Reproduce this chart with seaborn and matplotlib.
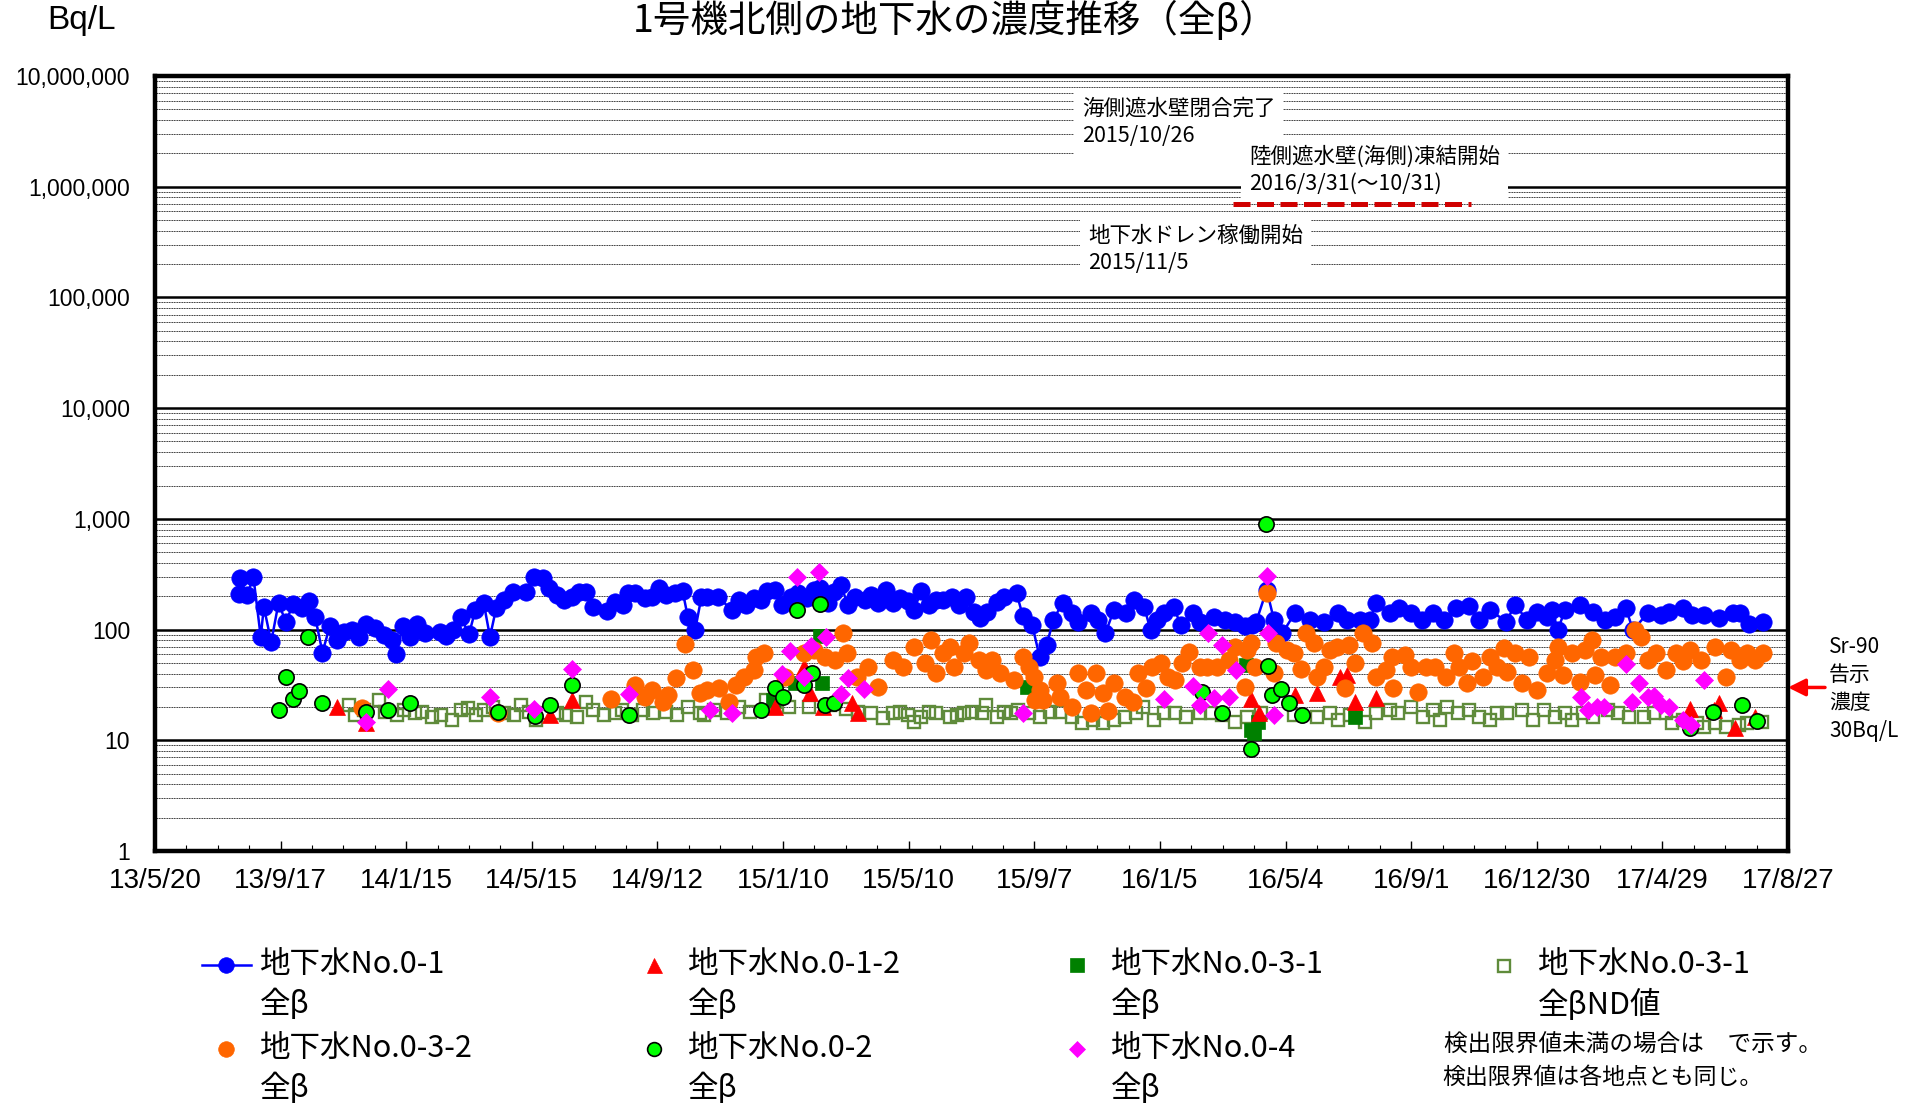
import numpy as np
import pandas as pd
import matplotlib
matplotlib.use('Agg')
import matplotlib.pyplot as plt
import matplotlib.dates as mdates
import matplotlib.ticker as mticker
import matplotlib.transforms as mtransforms
from matplotlib.lines import Line2D
from matplotlib.legend_handler import HandlerLine2D
from matplotlib import font_manager
import seaborn as sns

# ---------------- data ----------------
title = '1号機北側の地下水の濃度推移（全β）'
x_tick_labels = ['13/5/20', '13/9/17', '14/1/15', '14/5/15', '14/9/12', '15/1/10', '15/5/10',
                 '15/9/7', '16/1/5', '16/5/4', '16/9/1', '16/12/30', '17/4/29', '17/8/27']
x_start, x_end = '2013-05-20', '2017-08-27'

no01 = [  # 地下水No.0-1 全β
    ('2013-08-08', 210), ('2013-08-09', 292), ('2013-08-16', 205), ('2013-08-22', 299), ('2013-08-29', 86),
    ('2013-09-01', 160), ('2013-09-08', 77), ('2013-09-15', 174), ('2013-09-22', 117), ('2013-09-29', 170),
    ('2013-10-07', 157), ('2013-10-14', 181), ('2013-10-20', 130), ('2013-10-27', 62), ('2013-11-03', 108),
    ('2013-11-10', 81), ('2013-11-17', 95), ('2013-11-24', 99), ('2013-12-01', 86), ('2013-12-08', 112),
    ('2013-12-16', 103), ('2013-12-25', 89), ('2014-01-01', 81), ('2014-01-05', 60), ('2014-01-12', 108),
    ('2014-01-19', 86), ('2014-01-25', 112), ('2014-02-02', 93), ('2014-02-16', 95), ('2014-02-22', 87),
    ('2014-03-01', 99), ('2014-03-08', 130), ('2014-03-16', 91), ('2014-03-22', 150), ('2014-03-30', 174),
    ('2014-04-05', 86), ('2014-04-11', 157), ('2014-04-18', 185), ('2014-04-27', 219), ('2014-05-09', 219),
    ('2014-05-17', 299), ('2014-05-26', 292), ('2014-05-31', 238), ('2014-06-08', 205), ('2014-06-15', 185),
    ('2014-06-22', 197), ('2014-06-29', 219), ('2014-07-06', 219), ('2014-07-12', 160), ('2014-07-26', 147),
    ('2014-08-02', 178), ('2014-08-10', 167), ('2014-08-15', 214), ('2014-08-22', 214), ('2014-08-31', 193),
    ('2014-09-07', 197), ('2014-09-13', 238), ('2014-09-20', 205), ('2014-09-29', 214), ('2014-10-06', 223),
    ('2014-10-11', 130), ('2014-10-18', 99), ('2014-10-24', 197), ('2014-10-29', 197), ('2014-11-09', 197),
    ('2014-11-22', 150), ('2014-11-29', 185), ('2014-12-06', 167), ('2014-12-13', 193), ('2014-12-20', 185),
    ('2014-12-26', 223), ('2015-01-02', 228), ('2015-01-09', 167), ('2015-01-18', 197), ('2015-01-24', 214),
    ('2015-02-02', 193), ('2015-02-09', 228), ('2015-02-14', 238), ('2015-02-22', 174), ('2015-02-28', 219),
    ('2015-03-06', 253), ('2015-03-13', 167), ('2015-03-20', 197), ('2015-03-29', 185), ('2015-04-04', 205),
    ('2015-04-11', 174), ('2015-04-18', 228), ('2015-04-25', 174), ('2015-05-02', 193), ('2015-05-09', 180),
    ('2015-05-15', 150), ('2015-05-22', 223), ('2015-05-29', 167), ('2015-06-05', 185), ('2015-06-12', 185),
    ('2015-06-20', 197), ('2015-06-27', 167), ('2015-07-04', 197), ('2015-07-11', 144), ('2015-07-17', 127),
    ('2015-07-24', 144), ('2015-08-02', 178), ('2015-08-09', 197), ('2015-08-21', 214), ('2015-08-27', 133),
    ('2015-09-05', 110), ('2015-09-12', 57), ('2015-09-19', 73), ('2015-09-25', 122), ('2015-10-04', 174),
    ('2015-10-13', 141), ('2015-10-19', 117), ('2015-10-31', 141), ('2015-11-07', 122), ('2015-11-14', 93),
    ('2015-11-22', 150), ('2015-12-04', 141), ('2015-12-11', 185), ('2015-12-21', 160), ('2015-12-27', 99),
    ('2016-01-02', 122), ('2016-01-09', 141), ('2016-01-18', 160), ('2016-01-25', 110), ('2016-02-06', 141),
    ('2016-02-12', 117), ('2016-02-26', 130), ('2016-03-07', 122), ('2016-03-17', 117), ('2016-03-26', 108),
    ('2016-04-02', 110), ('2016-04-06', 118), ('2016-04-16', 228), ('2016-04-23', 122), ('2016-05-01', 93),
    ('2016-05-13', 141), ('2016-05-27', 122), ('2016-06-10', 118), ('2016-06-23', 141), ('2016-07-02', 122),
    ('2016-07-14', 122), ('2016-07-24', 122), ('2016-07-29', 174), ('2016-08-12', 141), ('2016-08-20', 156),
    ('2016-09-01', 141), ('2016-09-11', 122), ('2016-09-22', 141), ('2016-10-02', 122), ('2016-10-14', 156),
    ('2016-10-26', 162), ('2016-11-05', 122), ('2016-11-15', 150), ('2016-12-01', 118), ('2016-12-09', 167),
    ('2016-12-21', 122), ('2016-12-30', 144), ('2017-01-09', 130), ('2017-01-14', 150), ('2017-01-19', 99),
    ('2017-01-26', 150), ('2017-02-09', 167), ('2017-02-22', 144), ('2017-03-05', 122), ('2017-03-15', 130),
    ('2017-03-25', 156), ('2017-04-01', 99), ('2017-04-15', 141), ('2017-04-28', 136), ('2017-05-05', 144),
    ('2017-05-19', 156), ('2017-05-27', 136), ('2017-06-08', 136), ('2017-06-22', 127), ('2017-07-05', 141),
    ('2017-07-12', 141), ('2017-07-21', 113), ('2017-08-03', 118),
]

no032 = [  # 地下水No.0-3-2 全β
    ('2013-12-04', 19.6), ('2014-04-13', 17.6), ('2014-07-30', 23.6), ('2014-08-22', 31.6), ('2014-08-31', 24.6),
    ('2014-09-07', 28.5), ('2014-09-17', 22.2), ('2014-09-22', 25.7), ('2014-09-30', 36.3), ('2014-10-08', 73.5),
    ('2014-10-16', 43), ('2014-10-23', 26.5), ('2014-10-29', 28.5), ('2014-11-10', 29.4), ('2014-11-19', 22.4),
    ('2014-11-26', 31.6), ('2014-12-04', 37.6), ('2014-12-13', 43), ('2014-12-15', 57), ('2014-12-23', 61),
    ('2015-01-12', 37.6), ('2015-01-30', 61), ('2015-02-09', 65.5), ('2015-02-19', 57), ('2015-03-01', 53),
    ('2015-03-08', 92.5), ('2015-03-12', 61), ('2015-03-22', 37.6), ('2015-04-01', 46), ('2015-04-11', 30.5),
    ('2015-04-25', 53), ('2015-05-05', 46), ('2015-05-15', 70), ('2015-05-26', 49.5), ('2015-05-31', 80.5),
    ('2015-06-05', 40.2), ('2015-06-12', 61), ('2015-06-18', 70), ('2015-06-22', 46), ('2015-07-02', 61),
    ('2015-07-07', 75.4), ('2015-07-16', 53), ('2015-07-23', 43), ('2015-07-29', 53), ('2015-08-05', 40.2),
    ('2015-08-19', 35), ('2015-08-27', 57), ('2015-09-02', 46), ('2015-09-07', 37.6), ('2015-09-08', 23.2),
    ('2015-09-12', 28.5), ('2015-09-15', 23.2), ('2015-09-29', 32.6), ('2015-10-02', 24.8), ('2015-10-13', 20.1),
    ('2015-10-19', 40.2), ('2015-10-26', 28.5), ('2015-10-31', 17.5), ('2015-11-05', 40.2), ('2015-11-12', 26.5),
    ('2015-11-16', 18.3), ('2015-11-22', 32.6), ('2015-12-03', 24.8), ('2015-12-10', 22.4), ('2015-12-15', 40.2),
    ('2015-12-23', 29.4), ('2015-12-28', 46), ('2016-01-06', 49.5), ('2016-01-13', 37.6), ('2016-01-19', 35),
    ('2016-01-26', 49.5), ('2016-02-02', 63), ('2016-02-12', 46), ('2016-02-19', 46), ('2016-02-29', 46),
    ('2016-03-11', 53), ('2016-03-17', 70), ('2016-03-26', 30.5), ('2016-03-28', 65.5), ('2016-04-01', 75.4),
    ('2016-04-05', 46), ('2016-04-16', 212), ('2016-04-23', 40.2), ('2016-04-25', 75.4), ('2016-05-05', 65.5),
    ('2016-05-12', 61), ('2016-05-19', 44.5), ('2016-05-24', 92.5), ('2016-05-31', 75.4), ('2016-06-03', 37.6),
    ('2016-06-10', 46), ('2016-06-15', 65.5), ('2016-06-22', 70), ('2016-06-30', 29.4), ('2016-07-04', 72.8),
    ('2016-07-09', 49.5), ('2016-07-17', 92.5), ('2016-07-26', 75.4), ('2016-07-29', 37.6), ('2016-08-08', 43),
    ('2016-08-14', 57), ('2016-08-15', 29.4), ('2016-08-26', 59), ('2016-09-01', 46), ('2016-09-08', 27.5),
    ('2016-09-15', 46), ('2016-09-24', 46), ('2016-10-04', 37.6), ('2016-10-12', 61), ('2016-10-17', 46),
    ('2016-10-24', 32.6), ('2016-10-29', 51.5), ('2016-11-09', 37.6), ('2016-11-15', 57), ('2016-11-22', 46),
    ('2016-11-29', 67.8), ('2016-12-02', 41.6), ('2016-12-09', 61), ('2016-12-16', 32.6), ('2016-12-23', 57),
    ('2016-12-30', 28.5), ('2017-01-09', 40.2), ('2017-01-16', 53), ('2017-01-19', 70), ('2017-01-24', 38.9),
    ('2017-02-02', 61), ('2017-02-09', 33.7), ('2017-02-14', 65.5), ('2017-02-21', 80.5), ('2017-02-24', 38.9),
    ('2017-03-01', 57), ('2017-03-10', 31.6), ('2017-03-15', 57), ('2017-03-25', 61), ('2017-04-03', 99),
    ('2017-04-09', 86), ('2017-04-15', 53), ('2017-04-23', 61), ('2017-05-02', 43), ('2017-05-12', 61),
    ('2017-05-19', 51.5), ('2017-05-25', 65.5), ('2017-06-05', 53), ('2017-06-18', 70), ('2017-06-29', 37.6),
    ('2017-07-04', 65.5), ('2017-07-12', 53), ('2017-07-19', 61), ('2017-07-26', 53), ('2017-08-03', 61),
]

no02 = [  # 地下水No.0-2 全β
    ('2013-09-15', 18.8), ('2013-09-22', 37), ('2013-09-29', 23.4), ('2013-10-05', 28), ('2013-10-13', 86),
    ('2013-10-27', 21.9), ('2013-12-08', 17.9), ('2013-12-29', 18.8), ('2014-01-19', 21.9), ('2014-04-13', 17.9),
    ('2014-05-18', 16.6), ('2014-06-01', 20.8), ('2014-06-22', 31.6), ('2014-08-16', 16.9), ('2014-12-20', 18.8),
    ('2015-01-02', 29.4), ('2015-01-10', 24.8), ('2015-01-23', 150), ('2015-01-30', 31.6), ('2015-02-07', 40.2),
    ('2015-02-14', 170), ('2015-02-19', 20.8), ('2015-02-28', 21.9), ('2016-02-14', 27.5), ('2016-03-04', 17.8),
    ('2016-04-01', 8.4), ('2016-04-15', 900), ('2016-04-17', 46.8), ('2016-04-21', 25.7), ('2016-04-30', 28.9),
    ('2016-05-07', 21.9), ('2016-05-20', 16.9), ('2017-05-25', 12.8), ('2017-06-16', 17.9), ('2017-07-14', 20.8),
    ('2017-07-28', 14.9),
]

no04 = [  # 地下水No.0-4 全β
    ('2013-12-08', 14.7), ('2013-12-29', 28.9), ('2014-04-05', 24.8), ('2014-05-17', 19.0), ('2014-06-22', 43.6),
    ('2014-08-16', 26.2), ('2014-11-01', 18.8), ('2014-11-22', 17.8), ('2015-01-09', 39.8), ('2015-01-17', 64.5),
    ('2015-01-23', 297), ('2015-01-30', 37.6), ('2015-02-06', 71), ('2015-02-13', 331), ('2015-02-20', 85),
    ('2015-03-06', 26.2), ('2015-03-13', 36.3), ('2015-03-28', 28.9), ('2015-08-27', 17.8), ('2016-01-09', 23.6),
    ('2016-02-06', 30.9), ('2016-02-12', 21), ('2016-02-20', 92.5), ('2016-02-26', 24.3), ('2016-03-04', 72.8),
    ('2016-03-11', 24.5), ('2016-03-18', 43), ('2016-04-16', 303), ('2016-04-17', 92.5), ('2016-04-23', 16.9),
    ('2017-02-10', 24.8), ('2017-02-17', 18.8), ('2017-02-26', 20.1), ('2017-03-04', 20.1), ('2017-03-25', 48.8),
    ('2017-03-31', 22.4), ('2017-04-07', 32.6), ('2017-04-15', 24.8), ('2017-04-21', 25), ('2017-04-28', 20.8),
    ('2017-05-05', 19.9), ('2017-05-19', 15.3), ('2017-05-26', 13.7), ('2017-06-08', 35),
]

no012 = [  # 地下水No.0-1-2 全β
    ('2013-11-10', 20.1), ('2013-12-08', 14.2), ('2014-06-01', 16.9), ('2014-06-22', 23.2), ('2015-01-02', 20.1),
    ('2015-01-30', 46), ('2015-02-05', 26.5), ('2015-02-17', 20.1), ('2015-03-17', 21.6), ('2015-03-23', 17.5),
    ('2016-04-01', 23.5), ('2016-04-09', 17.5), ('2016-05-13', 25.7), ('2016-06-03', 26.5), ('2016-06-25', 37.6),
    ('2016-07-02', 38.9), ('2016-07-09', 22.4), ('2016-07-29', 23.9), ('2017-05-25', 19), ('2017-06-17', 18.8),
    ('2017-06-22', 21.9), ('2017-07-07', 12.8), ('2017-07-26', 16.3),
]

no031 = [  # 地下水No.0-3-1 全β
    ('2014-12-31', 23.2), ('2015-01-21', 32.6), ('2015-02-14', 87.6), ('2015-02-16', 32.6), ('2015-08-31', 30.5),
    ('2016-03-27', 48), ('2016-04-01', 12.4), ('2016-04-04', 11.6), ('2016-04-08', 14.7), ('2016-07-09', 16.3),
]

no031_nd = [  # 地下水No.0-3-1 全βND値
    ('2013-11-21', 20.8), ('2013-11-27', 16.9), ('2013-12-06', 18.8), ('2013-12-20', 23.1), ('2013-12-26', 18.1),
    ('2014-01-06', 16.9), ('2014-01-13', 18.8), ('2014-01-23', 17.5), ('2014-01-30', 18.1), ('2014-02-09', 16.3),
    ('2014-02-17', 16.9), ('2014-02-28', 15.3), ('2014-03-08', 18.8), ('2014-03-15', 19.4), ('2014-03-23', 16.9),
    ('2014-03-30', 18.8), ('2014-04-08', 20.1), ('2014-04-18', 17.5), ('2014-04-28', 16.9), ('2014-05-05', 20.8),
    ('2014-05-12', 18.1), ('2014-05-19', 15.3), ('2014-05-26', 17.5), ('2014-06-08', 17.5), ('2014-06-17', 16.9),
    ('2014-06-27', 16.3), ('2014-07-06', 22.4), ('2014-07-12', 18.8), ('2014-07-23', 16.9), ('2014-08-02', 17.5),
    ('2014-08-09', 18.8), ('2014-08-19', 16.9), ('2014-08-29', 18.8), ('2014-09-08', 17.5), ('2014-09-20', 18.1),
    ('2014-10-01', 16.9), ('2014-10-11', 20.1), ('2014-10-23', 17.5), ('2014-10-26', 16.9), ('2014-11-05', 18.8),
    ('2014-11-17', 17.5), ('2014-11-29', 20.1), ('2014-12-09', 18.1), ('2014-12-25', 23.1), ('2015-01-02', 22.4),
    ('2015-01-16', 20.1), ('2015-02-04', 20), ('2015-02-24', 21), ('2015-03-11', 19), ('2015-03-23', 18),
    ('2015-04-04', 17.5), ('2015-04-15', 15.8), ('2015-04-25', 17.5), ('2015-05-02', 18.1), ('2015-05-09', 16.9),
    ('2015-05-15', 14.7), ('2015-05-22', 16.3), ('2015-05-29', 18.1), ('2015-06-05', 17.5), ('2015-06-18', 16.3),
    ('2015-06-25', 16.9), ('2015-07-02', 17.5), ('2015-07-09', 18.1), ('2015-07-19', 17.5), ('2015-07-23', 20.8),
    ('2015-08-02', 16.3), ('2015-08-09', 18.1), ('2015-08-16', 17.5), ('2015-08-22', 18.8), ('2015-09-02', 17.5),
    ('2015-09-12', 16.3), ('2015-09-22', 18.1), ('2015-10-02', 18.1), ('2015-10-13', 16.3), ('2015-10-23', 14.2),
    ('2015-11-02', 15.3), ('2015-11-12', 14.2), ('2015-11-22', 15.3), ('2015-12-03', 16.3), ('2015-12-13', 17.5),
    ('2015-12-20', 20.1), ('2015-12-30', 15.3), ('2016-01-09', 17.5), ('2016-01-19', 17.5), ('2016-01-30', 16.3),
    ('2016-02-12', 17.5), ('2016-02-23', 17.5), ('2016-03-04', 16.9), ('2016-03-17', 14.7), ('2016-03-28', 16.3),
    ('2016-04-11', 17.5), ('2016-05-12', 16.9), ('2016-06-03', 16.3), ('2016-06-15', 17.5), ('2016-06-23', 15.3),
    ('2016-07-05', 16.9), ('2016-07-19', 14.7), ('2016-07-29', 17.5), ('2016-08-12', 18.8), ('2016-08-19', 17.5),
    ('2016-09-01', 20.1), ('2016-09-12', 16.3), ('2016-09-22', 18.8), ('2016-09-29', 15.3), ('2016-10-05', 20.1),
    ('2016-10-16', 17.5), ('2016-10-26', 18.8), ('2016-11-05', 16.3), ('2016-11-15', 15.3), ('2016-11-22', 17.5),
    ('2016-12-02', 17.5), ('2016-12-16', 18.8), ('2016-12-26', 15.3), ('2017-01-06', 18.8), ('2017-01-16', 16.3),
    ('2017-01-26', 17.5), ('2017-02-02', 15.3), ('2017-02-12', 17.5), ('2017-02-22', 16.3), ('2017-03-08', 18.8),
    ('2017-03-18', 17.5), ('2017-03-28', 16.3), ('2017-04-11', 16.3), ('2017-04-21', 17.5), ('2017-05-02', 17.5),
    ('2017-05-08', 14.2), ('2017-05-19', 15.3), ('2017-06-01', 14.2), ('2017-06-08', 13.3), ('2017-06-18', 14.2),
    ('2017-06-29', 13.3), ('2017-07-11', 13.7), ('2017-07-19', 14.2), ('2017-08-02', 14.7),
]

freeze_period = ['2016-03-15', '2016-10-28']   # 陸側遮水壁(海側)凍結 red dashed bar
freeze_level = 7.0e5
sr90_limit = 30

legend_labels = ['地下水No.0-1\n全β', '地下水No.0-3-2\n全β', '地下水No.0-1-2\n全β', '地下水No.0-2\n全β',
                 '地下水No.0-3-1\n全β', '地下水No.0-4\n全β', '地下水No.0-3-1\n全βND値']

# ---------------- fonts ----------------
JP = ['Noto Sans CJK JP', 'DejaVu Sans']
plt.rcParams['font.family'] = JP
_names = {f.name for f in font_manager.fontManager.ttflist}
NARROW = 'Liberation Sans Narrow' if 'Liberation Sans Narrow' in _names else 'Liberation Sans'
ARIAL = 'Liberation Sans' if 'Liberation Sans' in _names else 'DejaVu Sans'

W, H = 1919, 1108
fig = plt.figure(figsize=(W / 100, H / 100), dpi=100)
AX_L, AX_R, AX_T, AX_B = 155, 1788, 76, 851
ax = fig.add_axes([AX_L / W, 1 - AX_B / H, (AX_R - AX_L) / W, (AX_B - AX_T) / H])
ax.set_yscale('log')


def to_df(pairs):
    d = pd.DataFrame(pairs, columns=['date', 'value'])
    d['date'] = pd.to_datetime(d['date'])
    return d


def draw(pairs, **kw):
    sns.lineplot(data=to_df(pairs), x='date', y='value', ax=ax, estimator=None, sort=True, **kw)
    return ax.lines[-1]


h_nd = draw(no031_nd, color='#5f8b3b', marker='s', markersize=9, markerfacecolor='none',
            markeredgecolor='#5f8b3b', markeredgewidth=1.7, linestyle='', zorder=2)
h_dg = draw(no031, color='#008000', marker='s', markersize=10.5, markeredgecolor='#008000',
            markeredgewidth=0.5, linestyle='', zorder=3)
h_red = draw(no012, color='#ff0000', marker='^', markersize=12, markeredgecolor='#ff0000',
             markeredgewidth=0.5, linestyle='', zorder=3.5)
h_blue = draw(no01, color='#0000ff', marker='o', markersize=12.5, markeredgecolor='#0000ff',
              markeredgewidth=0.5, linewidth=1.8, zorder=4)
h_or = draw(no032, color='#ff6600', marker='o', markersize=12.5, markeredgecolor='#ff6600',
            markeredgewidth=0.5, linestyle='', zorder=5)
h_gr = draw(no02, color='#00ff00', marker='o', markersize=11, markeredgecolor='black',
            markeredgewidth=1.2, linestyle='', zorder=6)
h_mg = draw(no04, color='#ff00ff', marker='D', markersize=9.5, markeredgecolor='#ff00ff',
            markeredgewidth=0.5, linestyle='', zorder=7)

# red dashed freeze period bar
ax.plot(pd.to_datetime(freeze_period), [freeze_level, freeze_level], color='#d00000', lw=3.6,
        dashes=(3.4, 1.3), solid_capstyle='butt', dash_capstyle='butt', zorder=6)

# ---------------- axes ----------------
xs, xe = pd.Timestamp(x_start), pd.Timestamp(x_end)
ax.set_xlim(xs, xe)
ax.set_ylim(1, 1e7)
major_dates = pd.date_range(xs, xe, freq='120D')
ax.set_xticks(mdates.date2num(major_dates.to_pydatetime()))
ax.set_xticklabels(x_tick_labels)
ax.xaxis.set_minor_locator(mticker.FixedLocator(
    mdates.date2num(pd.date_range(xs, xe, freq='30D').to_pydatetime())))
ax.yaxis.set_major_locator(mticker.LogLocator(base=10, numticks=12))
ax.yaxis.set_minor_locator(mticker.LogLocator(base=10, subs=np.arange(2, 10), numticks=100))
ax.yaxis.set_major_formatter(mticker.FuncFormatter(lambda v, p: f'{int(round(v)):,}'))
ax.yaxis.set_minor_formatter(mticker.NullFormatter())
ax.set_xlabel('')
ax.set_ylabel('')
ax.tick_params(axis='y', which='both', length=0, pad=18, labelsize=16.5, labelfontfamily=ARIAL)
ax.tick_params(axis='x', which='major', direction='in', length=7, width=1.0, pad=12,
               labelsize=20, labelfontfamily=NARROW)
ax.tick_params(axis='x', which='minor', direction='in', length=4, width=0.8)
ax.grid(True, which='major', axis='y', color='black', linewidth=1.8)
ax.grid(True, which='minor', axis='y', color='black', linewidth=0.6, linestyle=(0, (1.2, 0.8)))
ax.set_axisbelow(True)
for s in ax.spines.values():
    s.set_linewidth(3.2)
    s.set_color('black')
ax.set_facecolor('white')

# ---------------- annotations ----------------
box = dict(boxstyle='square,pad=0.35', facecolor='white', edgecolor='none')
axw, axh = AX_R - AX_L, AX_B - AX_T


def axfrac(px, py):
    return (px - AX_L) / axw, (AX_B - py) / axh


for (px, py), txt in [((1082, 122.5), '海側遮水壁閉合完了\n2015/10/26'),
                      ((1249, 170), '陸側遮水壁(海側)凍結開始\n2016/3/31(～10/31)'),
                      ((1088, 249.5), '地下水ドレン稼働開始\n2015/11/5')]:
    fx, fy = axfrac(px, py)
    ax.text(fx, fy, txt, transform=ax.transAxes, ha='left', va='center', fontsize=15.5,
            linespacing=1.3, bbox=box, zorder=8)

ax.annotate('', xy=(1.0, sr90_limit), xycoords=('axes fraction', 'data'),
            xytext=(1 + 37 / axw, sr90_limit), textcoords=('axes fraction', 'data'),
            arrowprops=dict(arrowstyle='-|>', color='#ff0000', lw=2.5, mutation_scale=26,
                            shrinkA=0, shrinkB=0), annotation_clip=False)
fig.text(1829 / W, 1 - 689 / H, 'Sr-90\n告示\n濃度\n30Bq/L', fontsize=15, ha='left', va='center',
         linespacing=1.35)

fig.text(955 / W, 1 - 21 / H, title, ha='center', va='center', fontsize=27)
fig.text(81 / W, 1 - 21 / H, 'Bq/L', ha='center', va='center', fontsize=24, family=NARROW)


# ---------------- legend ----------------
class TopHandler(HandlerLine2D):
    def __init__(self, dy=14, **kw):
        super().__init__(**kw)
        self.dy = dy

    def create_artists(self, legend, orig_handle, xdescent, ydescent, width, height, fontsize, trans):
        arts = super().create_artists(legend, orig_handle, xdescent, ydescent, width, height,
                                      fontsize, trans)
        t = mtransforms.Affine2D().translate(0, self.dy) + trans
        for a in arts:
            a.set_transform(t)
        return arts


cols = [([h_blue, h_or], legend_labels[0:2], 202),
        ([h_red, h_gr], legend_labels[2:4], 630),
        ([h_dg, h_mg], legend_labels[4:6], 1053),
        ([h_nd], legend_labels[6:7], 1480)]
for hs, labs, x0 in cols:
    leg = fig.legend(hs, labs, loc='upper left', bbox_to_anchor=(x0 / W, 1 - 949 / H), frameon=False,
                     prop={'family': JP, 'size': 22}, handlelength=1.6, handletextpad=0.3,
                     labelspacing=0.43, borderpad=0, borderaxespad=0, markerscale=0.9,
                     handler_map={Line2D: TopHandler(dy=14.8)})
    for t in leg.get_texts():
        t.set_linespacing(1.35)

fig.text(1444 / W, 1 - 1045 / H, '検出限界値未満の場合は　で示す。', fontsize=17, ha='left', va='center')
fig.text(1442 / W, 1 - 1077 / H, '検出限界値は各地点とも同じ。', fontsize=16.5, ha='left', va='center')

fig.savefig('out.png', dpi=100, facecolor='white')
